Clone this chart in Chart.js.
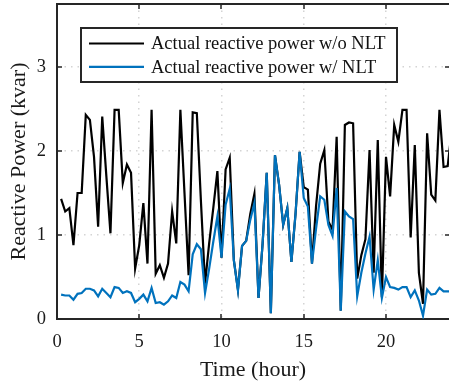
<!DOCTYPE html>
<html>
<head>
<meta charset="utf-8">
<script src="https://cdn.jsdelivr.net/npm/chart.js@4.4.0/dist/chart.umd.min.js"></script>
<style>
  html, body { margin: 0; padding: 0; background: #fff; }
  #wrap { width: 449px; height: 383px; }
</style>
</head>
<body>
<div id="wrap"><canvas id="chart" width="449" height="383"></canvas></div>
<script>
    'use strict';

    // Time stamps (hour), 15 minute steps
    const hours = [
        0.25, 0.5, 0.75, 1, 1.25, 1.5, 1.75, 2, 2.25, 2.5, 2.75, 3,
        3.25, 3.5, 3.75, 4, 4.25, 4.5, 4.75, 5, 5.25, 5.5, 5.75, 6,
        6.25, 6.5, 6.75, 7, 7.25, 7.5, 7.75, 8, 8.25, 8.5, 8.75, 9,
        9.25, 9.5, 9.75, 10, 10.25, 10.5, 10.75, 11, 11.25, 11.5, 11.75, 12,
        12.25, 12.5, 12.75, 13, 13.25, 13.5, 13.75, 14, 14.25, 14.5, 14.75, 15,
        15.25, 15.5, 15.75, 16, 16.25, 16.5, 16.75, 17, 17.25, 17.5, 17.75, 18,
        18.25, 18.5, 18.75, 19, 19.25, 19.5, 19.75, 20, 20.25, 20.5, 20.75, 21,
        21.25, 21.5, 21.75, 22, 22.25, 22.5, 22.75, 23, 23.25, 23.5, 23.75, 24
    ];

    // Reactive power without NLT (kvar)
    const qWithoutNlt = [
        1.43, 1.28, 1.32, 0.88, 1.50, 1.50, 2.43, 2.37, 1.93, 1.10, 2.41, 1.70,
        1.02, 2.49, 2.49, 1.62, 1.84, 1.74, 0.60, 0.88, 1.38, 0.66, 2.49, 0.54,
        0.64, 0.49, 0.66, 1.28, 0.90, 2.49, 1.50, 0.52, 2.46, 2.45, 1.40, 0.42,
        0.90, 1.32, 1.76, 0.73, 1.78, 1.92, 0.70, 0.35, 0.87, 0.93, 1.25, 1.49,
        0.25, 0.90, 1.74, 0.07, 1.95, 1.60, 1.12, 1.32, 0.68, 1.25, 1.99, 1.57,
        1.54, 0.66, 1.35, 1.85, 2.01, 1.16, 1.06, 2.17, 0.10, 2.31, 2.34, 2.33,
        0.48, 0.76, 0.95, 2.01, 0.55, 2.13, 0.26, 1.93, 1.46, 2.31, 2.11, 2.49,
        2.49, 0.97, 2.07, 0.55, 0.18, 2.21, 1.48, 1.41, 2.49, 1.81, 1.82, 2.25
    ];

    // Reactive power with NLT (kvar)
    const qWithNlt = [
        0.29, 0.28, 0.28, 0.23, 0.30, 0.31, 0.36, 0.36, 0.34, 0.27, 0.36, 0.31,
        0.26, 0.38, 0.37, 0.31, 0.33, 0.31, 0.20, 0.24, 0.29, 0.21, 0.37, 0.19,
        0.20, 0.17, 0.21, 0.28, 0.25, 0.44, 0.41, 0.33, 0.77, 0.89, 0.83, 0.31,
        0.60, 0.92, 1.22, 0.73, 1.36, 1.55, 0.70, 0.34, 0.87, 0.93, 1.18, 1.38,
        0.25, 0.90, 1.74, 0.07, 1.95, 1.60, 1.12, 1.32, 0.68, 1.25, 1.99, 1.44,
        1.34, 0.66, 1.08, 1.46, 1.42, 1.12, 0.99, 1.56, 0.10, 1.28, 1.22, 1.19,
        0.27, 0.55, 0.78, 0.98, 0.35, 0.70, 0.25, 0.50, 0.38, 0.37, 0.35, 0.38,
        0.38, 0.26, 0.34, 0.22, 0.04, 0.35, 0.29, 0.30, 0.37, 0.33, 0.33, 0.33
    ];

    const seriesLabels = ['Actual reactive power w/o NLT', 'Actual reactive power w/ NLT'];
    const xTicks = [0, 5, 10, 15, 20];
    const yTicks = [0, 1, 2, 3];

    const AXIS_COLOR = '#262626';
    const GRID_COLOR = '#d4d4d4';
    const SERIF = '"Liberation Serif", "Times New Roman", serif';

    function toPoints(xs, ys) {
        return xs.map((x, i) => ({ x: x, y: ys[i] }));
    }

    // top edge and inward tick marks, like a boxed axes
    const framePlugin = {
        id: 'frame',
        afterDatasetsDraw(chart) {
            const { ctx, chartArea: a, scales } = chart;
            ctx.save();
            ctx.strokeStyle = AXIS_COLOR;
            ctx.lineWidth = 2;
            ctx.beginPath();
            ctx.moveTo(a.left - 1, a.top);
            ctx.lineTo(a.right, a.top);
            ctx.stroke();

            ctx.lineWidth = 1.5;
            ctx.beginPath();
            xTicks.forEach(v => {
                const px = Math.round(scales.x.getPixelForValue(v));
                ctx.moveTo(px, a.bottom);
                ctx.lineTo(px, a.bottom - 5);
                ctx.moveTo(px, a.top);
                ctx.lineTo(px, a.top + 5);
            });
            yTicks.forEach(v => {
                const py = Math.round(scales.y.getPixelForValue(v));
                ctx.moveTo(a.left, py);
                ctx.lineTo(a.left + 5, py);
                ctx.moveTo(a.right - 4, py);
                ctx.lineTo(a.right, py);
            });
            ctx.stroke();
            ctx.restore();
        }
    };

    // boxed legend in the upper part of the axes
    const boxLegendPlugin = {
        id: 'boxLegend',
        afterDraw(chart) {
            const ctx = chart.ctx;
            const box = { x: 81, y: 28, w: 316, h: 54 };
            ctx.save();
            ctx.fillStyle = '#ffffff';
            ctx.fillRect(box.x, box.y, box.w, box.h);
            ctx.strokeStyle = AXIS_COLOR;
            ctx.lineWidth = 2;
            ctx.strokeRect(box.x, box.y, box.w, box.h);

            ctx.font = '18.5px ' + SERIF;
            ctx.textBaseline = 'middle';
            ctx.textAlign = 'left';
            chart.data.datasets.forEach((ds, i) => {
                const yy = 43.5 + i * 23.3;
                ctx.strokeStyle = ds.borderColor;
                ctx.lineWidth = 2.2;
                ctx.beginPath();
                ctx.moveTo(89, yy);
                ctx.lineTo(144, yy);
                ctx.stroke();
                ctx.fillStyle = '#111111';
                ctx.fillText(ds.label, 151, yy + 1);
            });
            ctx.restore();
        }
    };

    const ctx = document.getElementById('chart');

    const chart = new Chart(ctx, {
        type: 'line',
        data: {
            datasets: [
                {
                    label: seriesLabels[0],
                    data: toPoints(hours, qWithoutNlt),
                    borderColor: '#000000',
                    borderWidth: 2.2,
                    pointRadius: 0,
                    tension: 0,
                    order: 1
                },
                {
                    label: seriesLabels[1],
                    data: toPoints(hours, qWithNlt),
                    borderColor: '#0072BD',
                    borderWidth: 2.2,
                    pointRadius: 0,
                    tension: 0,
                    order: 0
                }
            ]
        },
        options: {
            responsive: false,
            animation: false,
            devicePixelRatio: 1,
            layout: { padding: { top: 4, right: 0, left: 0, bottom: 0 } },
            plugins: {
                legend: { display: false },
                tooltip: { enabled: false }
            },
            scales: {
                x: {
                    type: 'linear',
                    min: 0,
                    max: 23.83,
                    afterBuildTicks: s => { s.ticks = xTicks.map(v => ({ value: v })); },
                    afterFit: s => {
                        s.height = 64;
                        s.paddingLeft = 0;
                        s.paddingRight = 0;
                    },
                    grid: {
                        color: GRID_COLOR,
                        lineWidth: 1.5,
                        drawTicks: false
                    },
                    border: { display: true, color: AXIS_COLOR, width: 2, dash: [1.5, 5] },
                    ticks: {
                        padding: 12,
                        color: '#1a1a1a',
                        maxRotation: 0,
                        font: { family: SERIF, size: 18.5 }
                    },
                    title: {
                        display: true,
                        text: 'Time (hour)',
                        color: '#1a1a1a',
                        padding: { top: 0, bottom: 0 },
                        font: { family: SERIF, size: 22 }
                    }
                },
                y: {
                    min: 0,
                    max: 3.75,
                    afterBuildTicks: s => { s.ticks = yTicks.map(v => ({ value: v })); },
                    afterFit: s => {
                        s.width = 57;
                        s.paddingTop = 0;
                        s.paddingBottom = 0;
                    },
                    grid: {
                        color: GRID_COLOR,
                        lineWidth: 1.5,
                        drawTicks: false
                    },
                    border: { display: true, color: AXIS_COLOR, width: 2, dash: [1.5, 5] },
                    ticks: {
                        padding: 11,
                        color: '#1a1a1a',
                        font: { family: SERIF, size: 18.5 }
                    },
                    title: {
                        display: true,
                        text: 'Reactive Power (kvar)',
                        color: '#1a1a1a',
                        padding: { top: 6, bottom: 0 },
                        font: { family: SERIF, size: 22 }
                    }
                }
            }
        },
        plugins: [framePlugin, boxLegendPlugin]
    });
</script>
</body>
</html>
